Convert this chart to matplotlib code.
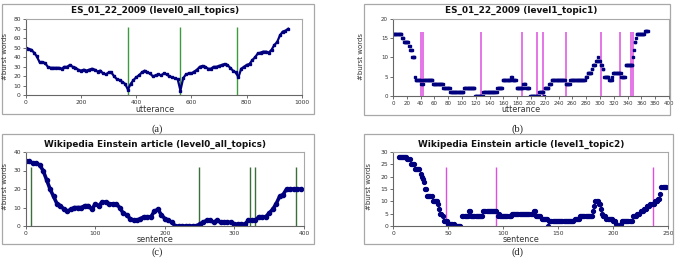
import numpy as np
import matplotlib
matplotlib.use("Agg")
import matplotlib.pyplot as plt
from matplotlib.patches import Rectangle

W, H = 683, 259

# ---------------- data ----------------
# (a) ES_01_22_2009 level0, sampled every 10 utterances
a_x = list(range(0, 951, 10))
a_y = [50, 49, 48, 45, 41, 35, 35, 34, 30, 29,
       29, 29, 29, 28, 30, 30, 32, 30, 29, 27,
       26, 27, 26, 27, 28, 27, 25, 26, 23, 22,
       24, 24, 20, 17, 16, 14, 12, 6, 12, 16,
       19, 21, 24, 26, 24, 23, 20, 21, 22, 21,
       23, 22, 20, 19, 18, 17, 5, 18, 22, 23,
       23, 25, 27, 30, 31, 30, 28, 28, 30, 30,
       31, 32, 33, 32, 29, 26, 24, 19, 28, 30,
       32, 33, 37, 40, 44, 45, 46, 46, 45, 48,
       53, 56, 63, 67, 68, 70]
a_bounds = [372, 558, 765]

# (b) ES_01_22_2009 level1 topic1, runs (start, end, value)
b_runs = [(0, 12, 16), (13, 15, 15), (16, 22, 14), (23, 24, 13), (25, 27, 12),
          (28, 31, 10), (32, 32, 5), (33, 40, 4), (41, 43, 3), (44, 57, 4),
          (58, 72, 3), (73, 82, 2), (83, 102, 1), (103, 118, 2), (119, 130, 0),
          (131, 150, 1), (151, 158, 2), (159, 170, 4), (171, 172, 5), (173, 178, 4),
          (179, 188, 2), (189, 192, 3), (193, 197, 2), (199, 211, 0), (212, 218, 1),
          (219, 219, 0), (220, 225, 2), (226, 229, 3), (230, 249, 4), (250, 256, 3),
          (257, 278, 4), (279, 281, 5), (282, 287, 6), (288, 289, 7), (290, 293, 8),
          (294, 296, 9), (297, 297, 10), (298, 300, 9), (301, 303, 8), (304, 305, 7),
          (306, 312, 5), (313, 317, 4), (318, 318, 5), (319, 330, 6), (331, 336, 5),
          (337, 347, 8), (348, 348, 10), (349, 349, 12), (350, 351, 14), (352, 352, 15),
          (353, 364, 16), (365, 369, 17)]
b_bounds = [41, 43, 127, 187, 209, 217, 250, 301, 329, 345, 348]

# (c) Wikipedia Einstein level0, sampled every 5 sentences
c_x = list(range(0, 396, 5))
c_y = [35, 35, 34, 34, 33, 30, 25, 20, 16, 12,
       11, 9, 8, 9, 10, 10, 10, 11, 11, 9,
       12, 11, 13, 13, 12, 12, 12, 10, 7, 6,
       4, 3, 3, 4, 5, 5, 5, 8, 9, 6,
       4, 3, 2, 0, 0, 0, 0, 0, 0, 0,
       1, 2, 3, 3, 2, 3, 2, 2, 2, 2,
       1, 1, 1, 1, 3, 3, 3, 5, 5, 5,
       7, 9, 12, 16, 17, 20, 20, 20, 20, 20]
c_bounds = [7, 249, 322, 329, 389]

# (d) Wikipedia Einstein level1 topic2, runs (start, end, value)
d_runs = [(5, 12, 28), (13, 15, 27), (16, 19, 25), (20, 24, 23), (25, 25, 21),
          (26, 26, 20), (27, 27, 19), (28, 28, 18), (29, 30, 15), (31, 35, 12),
          (36, 40, 10), (41, 41, 9), (42, 42, 7), (43, 44, 5), (45, 45, 4),
          (46, 49, 2), (50, 55, 1), (56, 61, 0), (63, 68, 4), (69, 70, 6),
          (71, 81, 4), (82, 94, 6), (95, 95, 4), (96, 96, 5), (97, 107, 4),
          (108, 127, 5), (128, 129, 6), (130, 134, 4), (135, 140, 3), (141, 141, 0),
          (142, 164, 2), (165, 169, 3), (170, 181, 4), (182, 182, 6), (183, 183, 8),
          (184, 186, 10), (187, 188, 9), (189, 189, 7), (190, 190, 5), (191, 193, 4),
          (194, 199, 3), (200, 202, 2), (203, 203, 1), (204, 206, 0), (207, 207, 1),
          (208, 217, 2), (218, 221, 4), (222, 224, 5), (225, 227, 6), (228, 230, 7),
          (231, 233, 8), (234, 237, 9), (238, 240, 10), (241, 242, 11), (243, 243, 13),
          (244, 248, 16)]
d_bounds = [48, 94, 236]

titles = ["ES_01_22_2009 (level0_all_topics)", "ES_01_22_2009 (level1_topic1)",
          "Wikipedia Einstein article (level0_all_topics)",
          "Wikipedia Einstein article (level1_topic2)"]
xlabels = ["utterance", "utterance", "sentence", "sentence"]
ylabel = "#burst words"
captions = ["(a)", "(b)", "(c)", "(d)"]


def expand(runs):
    xs, ys = [], []
    for s, e, v in runs:
        for i in range(s, e + 1):
            xs.append(i)
            ys.append(v)
    return xs, ys


NAVY = "#00007f"
GREEN_A = "#3e9a3e"
GREEN_C = "#3a6f3a"
MAG = "#de4fe0"

fig = plt.figure(figsize=(W / 100, H / 100), dpi=100)


def frac_rect(x0, y0, x1, y1):
    return [x0 / W, 1 - y1 / H, (x1 - x0) / W, (y1 - y0) / H]


def frame(x0, y0, x1, y1):
    fig.patches.append(Rectangle((x0 / W, 1 - y1 / H), (x1 - x0) / W, (y1 - y0) / H,
                                 transform=fig.transFigure, fill=False,
                                 edgecolor="#a8a8a8", linewidth=0.9))


def style(ax, xlim, ylim, xt, yt, tfs=4.3):
    ax.set_xlim(*xlim)
    ax.set_ylim(*ylim)
    ax.set_xticks(xt)
    ax.set_yticks(yt)
    ax.tick_params(axis="both", labelsize=tfs, length=2, width=0.6, pad=1.5,
                   colors="#555555", labelcolor="#333333", direction="out")
    for s in ["left", "bottom"]:
        ax.spines[s].set_color("#666666")
        ax.spines[s].set_linewidth(0.8)
    for s in ["top", "right"]:
        ax.spines[s].set_color("#a8a8a8")
        ax.spines[s].set_linewidth(0.8)


def texts(title, tx, ty, xl, xly, ylx, yly, cap, cx, cy):
    fig.text(tx / W, 1 - ty / H, title, ha="center", va="center",
             fontsize=6.4, fontweight="bold", family="DejaVu Sans", color="#111111")
    fig.text(tx / W, 1 - xly / H, xl, ha="center", va="center",
             fontsize=5.8, family="DejaVu Sans", color="#333333")
    fig.text(ylx / W, 1 - yly / H, ylabel, ha="center", va="center", rotation=90,
             fontsize=5.0, family="Liberation Sans Narrow", color="#333333")
    fig.text(cx / W, 1 - cy / H, cap, ha="center", va="center",
             fontsize=7.5, family="Liberation Serif", color="#222222")


# ---------- (a) ----------
frame(2, 4, 314, 114)
ax = fig.add_axes(frac_rect(25.7, 19.3, 302, 95.3))
ax.vlines(a_bounds, 0, 71.5, color=GREEN_A, linewidth=1.0, zorder=1)
ax.plot(a_x, a_y, color=NAVY, linewidth=1.6, marker="s", markersize=1.8, zorder=2)
style(ax, (0, 1000), (0, 80), range(0, 1001, 200), range(0, 81, 10))
texts(titles[0], 155, 10, xlabels[0], 109, 5, 57, captions[0], 157, 129)

# ---------- (b) ----------
frame(364, 4, 670, 114.5)
ax = fig.add_axes(frac_rect(393, 19.1, 669, 95.7))
ax.vlines(b_bounds, 0, 16.7, color=MAG, linewidth=1.1, zorder=1)
bx, by = expand(b_runs)
ax.plot(bx, by, linestyle="none", color=NAVY, marker="s", markersize=1.8, zorder=2)
style(ax, (0, 400), (0, 20), range(0, 401, 20), range(0, 21, 5), tfs=4.0)
texts(titles[1], 521, 10, xlabels[1], 109, 361, 57, captions[1], 517, 129)

# ---------- (c) ----------
frame(2, 134, 314, 244)
ax = fig.add_axes(frac_rect(25.7, 152, 304, 226))
ax.vlines(c_bounds, 0, 32, color=GREEN_C, linewidth=1.0, zorder=1)
ax.plot(c_x, c_y, color=NAVY, linewidth=2.6, marker="o", markersize=3.0, zorder=2)
style(ax, (0, 400), (0, 40), range(0, 401, 100), range(0, 41, 10))
texts(titles[2], 155, 144, xlabels[2], 239, 5, 187, captions[2], 157, 252)

# ---------- (d) ----------
frame(364, 134, 673, 244)
ax = fig.add_axes(frac_rect(393, 152, 668, 226))
ax.vlines(d_bounds, 0, 24, color=MAG, linewidth=1.0, zorder=1)
dx, dy = expand(d_runs)
ax.plot(dx, dy, linestyle="none", color=NAVY, marker="o", markersize=2.8, zorder=2)
style(ax, (0, 250), (0, 30), range(0, 251, 50), range(0, 31, 5))
texts(titles[3], 521, 144, xlabels[3], 239, 369, 187, captions[3], 517, 252)

fig.savefig("out.png", dpi=100, facecolor="white")
